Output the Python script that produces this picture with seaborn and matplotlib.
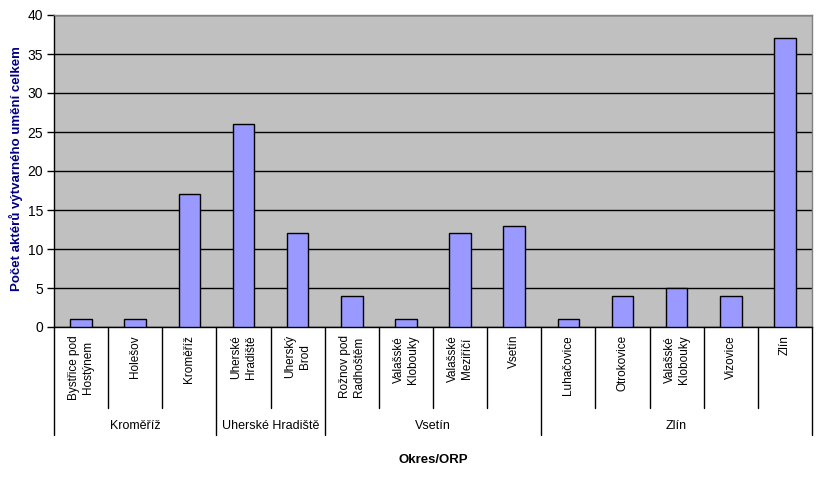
import matplotlib
matplotlib.use("Agg")
import matplotlib.pyplot as plt
import matplotlib.transforms as mtransforms
import seaborn as sns
import pandas as pd

orp_labels = ["Bystřice pod\nHostýnem", "Holešov", "Kroměříž", "Uherské\nHradiště",
              "Uherský\nBrod", "Rožnov pod\nRadhoštěm", "Valašské\nKlobouky",
              "Valašské\nMeziříčí", "Vsetín", "Luhačovice", "Otrokovice",
              "Valašské\nKlobouky", "Vizovice", "Zlín"]
values = [1, 1, 17, 26, 12, 4, 1, 12, 13, 1, 4, 5, 4, 37]
okres_names = ["Kroměříž", "Uherské Hradiště", "Vsetín", "Zlín"]
okres_sizes = [3, 2, 4, 5]
y_ticks = [0, 5, 10, 15, 20, 25, 30, 35, 40]

sns.set_theme(style="white")
plt.rcParams['font.family'] = ['Liberation Sans', 'DejaVu Sans']

fig = plt.figure(figsize=(8.27, 4.78), dpi=100)
W, H = 827, 478
x0, x1, ytop, ybot = 54, 812, 15, 327
ax = fig.add_axes([x0 / W, 1 - ybot / H, (x1 - x0) / W, (ybot - ytop) / H])

df = pd.DataFrame({"idx": list(range(len(values))), "val": values})
sns.barplot(data=df, x="idx", y="val", ax=ax, color="#9999FF", saturation=1,
            width=0.4, edgecolor="black", linewidth=1, zorder=3)

ax.set_facecolor("#C0C0C0")
ax.set_ylim(0, 40)
ax.set_xlim(-0.5, len(values) - 0.5)
ax.set_yticks(y_ticks)
ax.set_yticklabels([str(t) for t in y_ticks], fontsize=10, color="black")
ax.yaxis.grid(True, color="black", linewidth=1, zorder=1)
ax.set_axisbelow(True)
ax.tick_params(axis="y", direction="out", length=5, width=1, color="black", pad=3, left=True)
ax.tick_params(axis="x", bottom=False, labelbottom=False)

for side in ["top", "right"]:
    ax.spines[side].set_color("#808080")
    ax.spines[side].set_linewidth(1)
for side in ["left", "bottom"]:
    ax.spines[side].set_color("black")
    ax.spines[side].set_linewidth(1)

ax.set_xlabel("")
ax.set_ylabel("")
fig.text(16 / W, 1 - 169 / H, "Počet aktérů výtvarného umění celkem", rotation=90,
         ha="center", va="center", fontsize=9.5, fontweight="bold", color="#000080")

trans = mtransforms.blended_transform_factory(ax.transData, ax.transAxes)
plot_h = ybot - ytop

def ax_y(px):
    return (ybot - px) / plot_h

# category labels
for i, lab in enumerate(orp_labels):
    ax.text(i, ax_y(335), lab, transform=trans, rotation=90, ha="center", va="top",
            multialignment="center", fontsize=8.5, color="black", linespacing=1.25,
            clip_on=False)

# separators
group_bounds = [-0.5]
for s in okres_sizes:
    group_bounds.append(group_bounds[-1] + s)
for b in range(len(values) + 1):
    xb = b - 0.5
    bottom = 435 if xb in group_bounds else 408
    ax.plot([xb, xb], [0, ax_y(bottom)], transform=trans, color="black",
            linewidth=1, clip_on=False)

# group labels
for k, name in enumerate(okres_names):
    cx = (group_bounds[k] + group_bounds[k + 1]) / 2
    ax.text(cx, ax_y(426), name, transform=trans, ha="center", va="center",
            fontsize=9, color="black", clip_on=False)

fig.text(433 / W, 1 - 460 / H, "Okres/ORP", ha="center", va="center",
         fontsize=9.5, fontweight="bold", color="black")

fig.savefig("out.png", dpi=100, facecolor="white")
